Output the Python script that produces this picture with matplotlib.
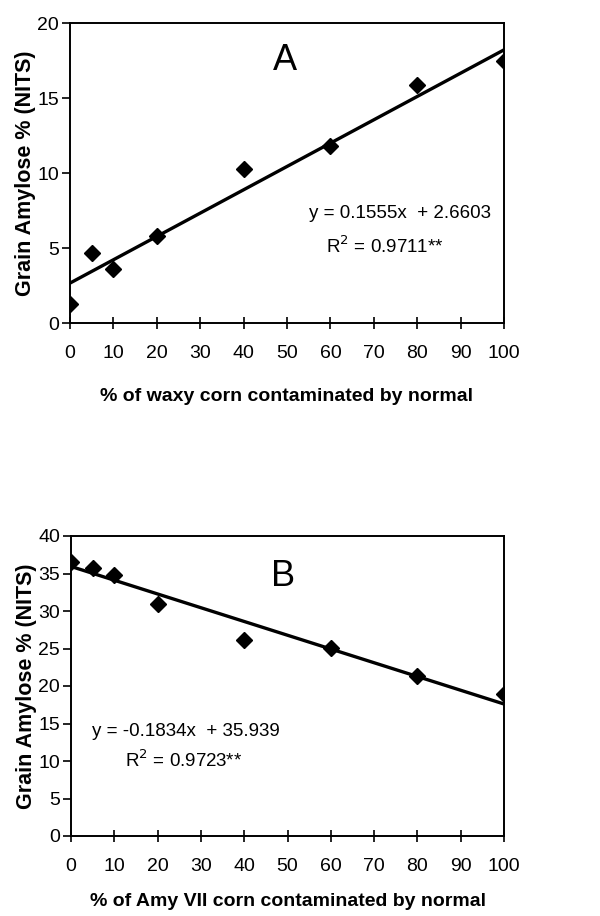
import matplotlib
matplotlib.use('Agg')
import matplotlib.pyplot as plt

plt.rcParams['font.family'] = ['Liberation Sans', 'DejaVu Sans']

# panel A: waxy corn
x_a = [0, 5, 10, 20, 40, 60, 80, 100]
y_a = [1.3, 4.7, 3.6, 5.8, 10.3, 11.8, 15.9, 17.5]
slope_a, icpt_a = 0.1555, 2.6603

# panel B: Amy VII corn
x_b = [0, 5, 10, 20, 40, 60, 80, 100]
y_b = [36.6, 35.8, 34.8, 31.0, 26.1, 25.1, 21.3, 18.9]
slope_b, icpt_b = -0.1834, 35.939

xticks = list(range(0, 101, 10))


def draw_panel(ax, x, y, slope, icpt, ymax, ystep, letter, letter_pos,
               eq, eq_pos, r2, r2_pos, xlabel, xlabelpad):
    ax.plot(x, y, 'D', color='black', markersize=8)
    ax.plot([0, 100], [icpt, slope * 100 + icpt], color='black', lw=2.4)
    ax.set_xlim(0, 100)
    ax.set_ylim(0, ymax)
    ax.set_xticks(xticks)
    ax.set_yticks(range(0, ymax + 1, ystep))
    ax.tick_params(axis='x', direction='inout', length=9, width=1.2,
                   labelsize=14, pad=11)
    ax.tick_params(axis='y', direction='out', length=6, width=1.2,
                   labelsize=14, pad=2)
    for s in ax.spines.values():
        s.set_linewidth(1.4)
    ax.set_xlabel(xlabel, fontsize=14, fontweight='bold', labelpad=xlabelpad)
    ax.set_ylabel('Grain Amylose % (NITS)', fontsize=15.5,
                  fontweight='bold', labelpad=1)
    ax.text(letter_pos[0], letter_pos[1], letter, fontsize=26,
            ha='center', va='center')
    ax.text(eq_pos[0], eq_pos[1], eq, fontsize=13.5, ha='center',
            va='center')
    ax.text(r2_pos[0], r2_pos[1], r2, fontsize=13.5, ha='center',
            va='center')


fig = plt.figure(figsize=(6, 9.16), dpi=100)
ax_a = fig.add_axes([70 / 600, 1 - 323 / 916, 434 / 600, 300 / 916])
draw_panel(ax_a, x_a, y_a, slope_a, icpt_a, 20, 5, 'A', (49.5, 17.5),
           'y = 0.1555x  + 2.6603', (76, 7.3),
           'R$^2$ = 0.9711**', (72.6, 5.1),
           '% of waxy corn contaminated by normal', 19)

ax_b = fig.add_axes([71 / 600, 1 - 836 / 916, 433 / 600, 300 / 916])
draw_panel(ax_b, x_b, y_b, slope_b, icpt_b, 40, 5, 'B', (49, 34.6),
           'y = -0.1834x  + 35.939', (26.5, 13.9),
           'R$^2$ = 0.9723**', (26, 10.1),
           '% of Amy VII corn contaminated by normal', 13)

fig.savefig('out.png', dpi=100)
